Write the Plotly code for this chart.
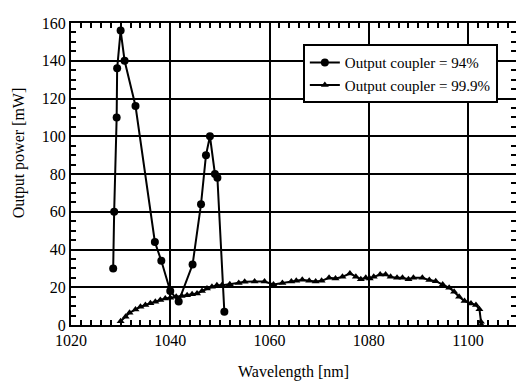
import plotly.graph_objects as go

# Output coupler = 94%
circ_x = [1028.5, 1028.7, 1029.2, 1029.3, 1030.0, 1030.8, 1033.0, 1036.9, 1038.2,
          1040.0, 1041.7, 1044.5, 1046.2, 1047.2, 1048.0, 1049.0, 1049.5, 1050.9]
circ_y = [30, 60, 110, 136, 156, 140, 116, 44, 34,
          18, 12.5, 32, 64, 90, 100, 80, 78, 7]

# Output coupler = 99.9%
tri_x = [1030.0, 1031.0, 1031.8, 1033.0, 1034.0, 1035.0, 1036.0, 1037.0, 1038.0, 1039.0,
         1040.0, 1041.2, 1042.3, 1043.4, 1044.4, 1045.4, 1046.4, 1047.4, 1048.4, 1049.4,
         1050.4, 1052.0, 1053.8, 1055.0, 1057.0, 1059.0, 1060.8, 1062.6, 1064.4, 1065.4,
         1066.6, 1068.0, 1069.3, 1070.5, 1072.0, 1073.3, 1074.7, 1076.2, 1077.4, 1078.4,
         1079.4, 1080.2, 1081.0, 1082.3, 1083.4, 1084.4, 1085.7, 1086.8, 1088.0, 1089.0,
         1090.8, 1092.2, 1093.5, 1094.9, 1096.2, 1097.2, 1098.2, 1099.3, 1100.6, 1101.6,
         1102.3, 1102.6, 1102.7]
tri_y = [2, 4.4, 6.5, 8.2, 9.7, 10.6, 11.5, 12.3, 13.2, 14.0,
         14.5, 15.0, 15.4, 15.8, 16.3, 16.7, 18.0, 19.3, 20.2, 21.0,
         21.0, 21.6, 22.3, 22.9, 23.0, 23.0, 21.5, 22.3, 23.0, 23.4,
         24.0, 23.5, 23.0, 23.4, 25.0, 24.6, 25.5, 27.3, 25.5, 24.3,
         25.0, 24.6, 25.5, 26.7, 26.7, 25.5, 25.0, 25.0, 24.3, 25.0,
         25.0, 23.8, 23.2, 21.5, 19.7, 17.6, 15.0, 12.7, 11.4, 10.6,
         8.4, 1.7, 0]

x_title = "Wavelength [nm]"
y_title = "Output power [mW]"
names = ["Output coupler = 94%", "Output coupler = 99.9%"]

FONT = "Liberation Serif"

fig = go.Figure()
fig.add_trace(go.Scatter(x=circ_x, y=circ_y, mode="lines+markers", name=names[0],
                         line=dict(color="black", width=2),
                         marker=dict(symbol="circle", size=8, color="black")))
fig.add_trace(go.Scatter(x=tri_x, y=tri_y, mode="lines+markers", name=names[1],
                         line=dict(color="black", width=2),
                         marker=dict(symbol="triangle-up", size=7, color="black")))

fig.update_layout(
    template="none",
    width=516, height=381,
    margin=dict(l=71, r=0, t=23, b=56),
    paper_bgcolor="white", plot_bgcolor="white",
    font=dict(family=FONT, size=16, color="black"),
    showlegend=True,
    legend=dict(x=0.521, y=0.93, xanchor="left", yanchor="top",
                bgcolor="white", bordercolor="black", borderwidth=2,
                font=dict(family=FONT, size=15, color="black"),
                tracegroupgap=0, itemwidth=30),
    xaxis=dict(range=[1020, 1109.67], dtick=20,
               showgrid=True, gridcolor="black", gridwidth=2,
               showline=True, linecolor="black", linewidth=2, mirror="allticks",
               ticks="inside", ticklen=8, tickwidth=2, tickcolor="black",
               zeroline=False,
               minor=dict(dtick=2, ticks="inside", ticklen=5, tickwidth=2,
                          tickcolor="black"),
               tickfont=dict(family=FONT, size=16)),
    yaxis=dict(range=[0, 160], dtick=20,
               showgrid=True, gridcolor="black", gridwidth=2,
               showline=True, linecolor="black", linewidth=2, mirror="allticks",
               ticks="inside", ticklen=8, tickwidth=2, tickcolor="black",
               zeroline=False,
               minor=dict(dtick=5, ticks="inside", ticklen=5, tickwidth=2,
                          tickcolor="black"),
               tickfont=dict(family=FONT, size=16)),
    annotations=[
        dict(text=x_title, xref="paper", yref="paper", x=0.5, y=-0.155,
             xanchor="center", yanchor="middle", showarrow=False,
             font=dict(family=FONT, size=16)),
        dict(text=y_title, xref="paper", yref="paper", x=-0.118, y=0.57,
             xanchor="center", yanchor="middle", showarrow=False, textangle=-90,
             font=dict(family=FONT, size=16)),
    ],
)

fig.write_html("out.html")
